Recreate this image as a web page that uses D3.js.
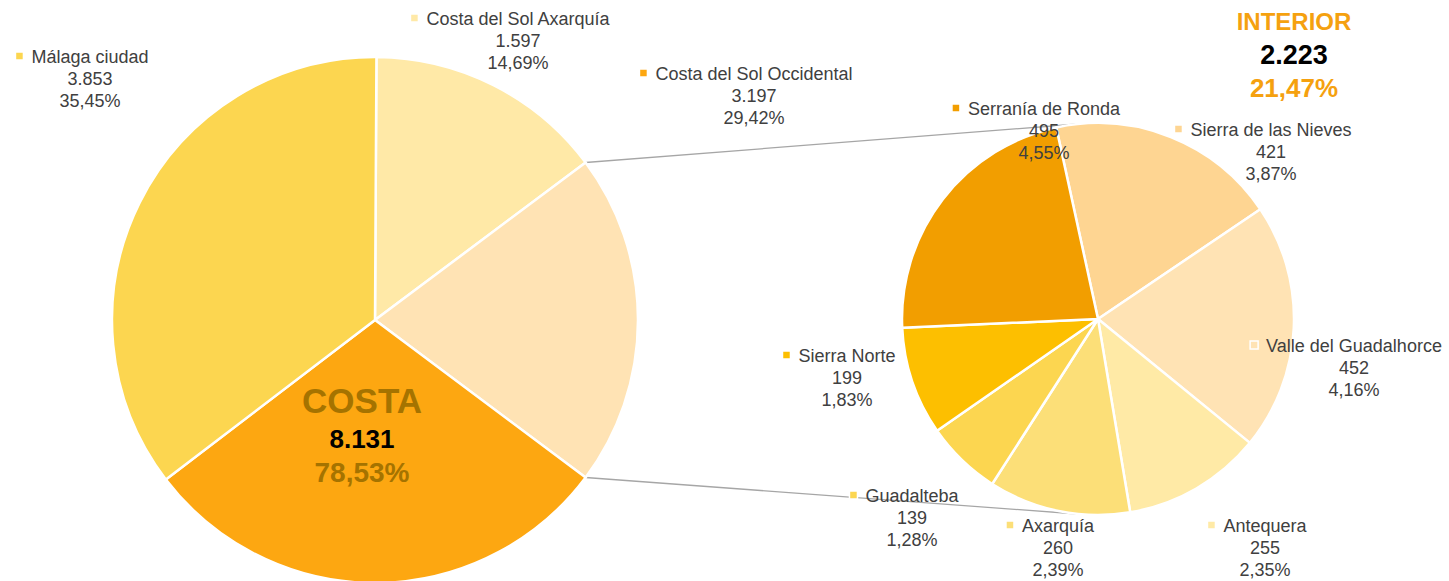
<!DOCTYPE html>
<html>
<head>
<meta charset="utf-8">
<script src="https://cdn.jsdelivr.net/npm/d3@7"></script>
<style>
  body { margin: 0; background: #fff; }
  svg { display: block; font-family: "Liberation Sans", Arial, sans-serif; }
</style>
</head>
<body>
<script>
// data
const costaNames = ["Costa del Sol Axarquía", "Costa del Sol Occidental", "Málaga ciudad"];
const costaValues = [1597, 3197, 3853];
const costaColors = ["#FFE9A7", "#FDA711", "#FCD650"];

const interiorNames = ["Sierra de las Nieves", "Valle del Guadalhorce", "Antequera", "Axarquía", "Guadalteba", "Sierra Norte", "Serranía de Ronda"];
const interiorValues = [421, 452, 255, 260, 139, 199, 495];
const interiorColors = ["#FED592", "#FFE3B4", "#FFEAA6", "#FCDF78", "#FCD650", "#FDBF00", "#F29E00"];
const interiorSliceColor = "#FFE3B4";

const groupNames = ["COSTA", "INTERIOR"];
const groupTotals = ["8.131", "2.223"];
const groupShares = ["78,53%", "21,47%"];

// label placement (text centre x, first baseline y)
const labelPos = {
  "Costa del Sol Axarquía": [518, 25],
  "Costa del Sol Occidental": [754, 80],
  "Málaga ciudad": [90, 63],
  "Sierra de las Nieves": [1271, 136],
  "Valle del Guadalhorce": [1354, 352],
  "Antequera": [1265, 532],
  "Axarquía": [1058, 532],
  "Guadalteba": [912, 502],
  "Sierra Norte": [847, 362],
  "Serranía de Ronda": [1044, 115]
};

const W = 1449, H = 581;
const main = { cx: 375, cy: 320, r: 263 };
const sub = { cx: 1098, cy: 319, r: 196 };

const loc = d3.formatLocale({ decimal: ",", thousands: ".", grouping: [3], currency: ["", "€"] });
const fmtNum = loc.format(",d");
const fmtPct = v => loc.format(".2f")(v) + "%";

const interiorSum = d3.sum(interiorValues);
const grand = d3.sum(costaValues) + interiorSum;

const svg = d3.select("body").append("svg")
  .attr("width", W)
  .attr("height", H);

// main pie: Axarquía, (interior), Occidental, Málaga clockwise from top
const mainData = [
  { name: costaNames[0], value: costaValues[0], color: costaColors[0] },
  { name: "__interior", value: interiorSum, color: interiorSliceColor },
  { name: costaNames[1], value: costaValues[1], color: costaColors[1] },
  { name: costaNames[2], value: costaValues[2], color: costaColors[2] }
];
// rotate so the aggregated slice is centred on the right
const mainStart = Math.PI / 2 - (costaValues[0] + interiorSum / 2) / grand * 2 * Math.PI;
const mainArcs = d3.pie().sort(null).value(d => d.value)
  .startAngle(mainStart).endAngle(mainStart + 2 * Math.PI)(mainData);

const subData = interiorNames.map((n, i) => ({ name: n, value: interiorValues[i], color: interiorColors[i] }));
const subStart = -12.3 * Math.PI / 180;
const subArcs = d3.pie().sort(null).value(d => d.value)
  .startAngle(subStart).endAngle(subStart + 2 * Math.PI)(subData);

// connector lines
const interiorArc = mainArcs[1];
const pt = (c, a, r) => [c.cx + r * Math.sin(a), c.cy - r * Math.cos(a)];
const lines = [
  [pt(main, interiorArc.startAngle, main.r), pt(sub, -5 * Math.PI / 180, sub.r)],
  [pt(main, interiorArc.endAngle, main.r), pt(sub, 185 * Math.PI / 180, sub.r)]
];
svg.append("g").selectAll("line").data(lines).join("line")
  .attr("x1", d => d[0][0]).attr("y1", d => d[0][1])
  .attr("x2", d => d[1][0]).attr("y2", d => d[1][1])
  .attr("stroke", "#A6A6A6")
  .attr("stroke-width", 1.3);

const mainArc = d3.arc().innerRadius(0).outerRadius(main.r);
svg.append("g")
  .attr("transform", `translate(${main.cx},${main.cy})`)
  .selectAll("path").data(mainArcs).join("path")
  .attr("d", mainArc)
  .attr("fill", d => d.data.color)
  .attr("stroke", "#fff")
  .attr("stroke-width", 2.5)
  .attr("stroke-linejoin", "round");

const subArc = d3.arc().innerRadius(0).outerRadius(sub.r);
svg.append("g")
  .attr("transform", `translate(${sub.cx},${sub.cy})`)
  .selectAll("path").data(subArcs).join("path")
  .attr("d", subArc)
  .attr("fill", d => d.data.color)
  .attr("stroke", "#fff")
  .attr("stroke-width", 2.5)
  .attr("stroke-linejoin", "round");

// data labels with legend key
const labelData = mainData.filter(d => d.name !== "__interior").concat(subData);
const lab = svg.append("g").selectAll("g").data(labelData).join("g")
  .attr("font-size", 18)
  .attr("fill", "#404040");

lab.each(function (d) {
  const g = d3.select(this);
  const [x, y] = labelPos[d.name];
  const lines3 = [d.name, fmtNum(d.value), fmtPct(d.value / grand * 100)];
  const texts = g.selectAll("text").data(lines3).join("text")
    .attr("x", x)
    .attr("y", (t, i) => y + i * 22)
    .attr("text-anchor", "middle")
    .text(t => t);
  const w = texts.node().getComputedTextLength();
  g.insert("rect", "text")
    .attr("x", x - w / 2 - 16)
    .attr("y", y - 11)
    .attr("width", 8)
    .attr("height", 8)
    .attr("fill", d.color)
    .attr("stroke", "#fff")
    .attr("stroke-width", 1.5);
});

// group titles
const groups = [
  { x: 362, y: 413, name: groupNames[0], total: groupTotals[0], share: groupShares[0], col: "#A57300",
    sizes: [35, 26, 28], dy: [35, 69] },
  { x: 1294, y: 30, name: groupNames[1], total: groupTotals[1], share: groupShares[1], col: "#F5A10F",
    sizes: [24, 27, 26], dy: [34, 67] }
];
const gt = svg.append("g").attr("font-weight", "bold").attr("text-anchor", "middle");
groups.forEach(g => {
  gt.append("text").attr("x", g.x).attr("y", g.y)
    .attr("font-size", g.sizes[0]).attr("fill", g.col).text(g.name);
  gt.append("text").attr("x", g.x).attr("y", g.y + g.dy[0])
    .attr("font-size", g.sizes[1]).attr("fill", "#000").text(g.total);
  gt.append("text").attr("x", g.x).attr("y", g.y + g.dy[1])
    .attr("font-size", g.sizes[2]).attr("fill", g.col).text(g.share);
});
</script>
</body>
</html>
